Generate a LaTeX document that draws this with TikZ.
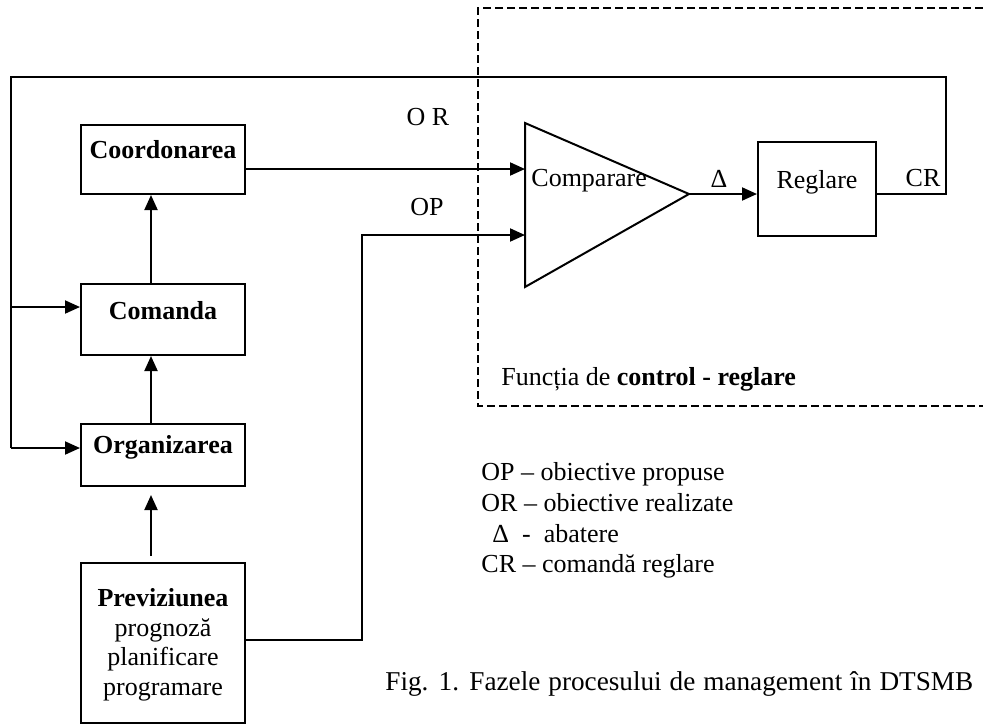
\documentclass[tikz,border=0pt]{standalone}
\usepackage{fontspec}
\setmainfont{Liberation Serif}
\usepackage{tikz}
\usetikzlibrary{arrows.meta}

\begin{document}
\begin{tikzpicture}[x=0.5pt, y=-0.5pt,
        every node/.style={font=\fontsize{13pt}{15pt}\selectfont},
        phase/.style={draw, line width=1pt, minimum width=82pt, inner sep=0pt,
            font=\fontsize{13pt}{15pt}\selectfont\bfseries},
        link/.style={line width=1pt},
        frame/.style={line width=0.6pt, dash pattern=on 4pt off 2pt},
        >={Triangle[length=7.5pt, width=6.5pt]}]
        \useasboundingbox (0,0) rectangle (983,724);
        % fazele
        \node (coord) [phase, anchor=north, text height=16.5pt, text depth=18pt] at (163,124) {Coordonarea};
        \node (coman) [phase, anchor=north, text height=17.5pt, text depth=18pt] at (163,283) {Comanda};
        \node (organ) [phase, anchor=north, text height=14.5pt, text depth=16.5pt] at (163,423) {Organizarea};
        \node (prev) [phase, anchor=north, minimum height=80pt, align=center,
            font=\fontsize{13pt}{14.8pt}\selectfont] at (163,562) {\\[-4pt]\textbf{Previziunea}\\prognoză\\planificare\\programare};
        \coordinate (ax) at (151,0);
        \draw [->, link] (ax |- coman.north) -- (ax |- coord.south);
        \draw [->, link] (ax |- organ.north) -- (ax |- coman.south);
        \draw [->, link] ([yshift=3pt]ax |- prev.north) -- ([yshift=-4pt]ax |- organ.south);
        % control - reglare
        \coordinate (cmpT) at (525,123);
        \coordinate (cmpB) at (525,287);
        \coordinate (cmpO) at (689,194);
        \draw [link] (cmpT) -- (cmpO) -- (cmpB) -- cycle;
        \node (cmp) [anchor=base west, inner sep=0pt] at (531,186) {Comparare};
        \node (regl) [draw, link, anchor=north, minimum width=59pt, inner sep=0pt,
            text height=23pt, text depth=24pt] at (817,141) {Reglare};
        \draw [->, link] (cmpO) -- (cmpO -| regl.west);
        \node (dlt) at (719,179) {Δ};
        \node (crl) at (923,178) {CR};
        \node (orl) at (428,117) {O R};
        \node (opl) at (427,207) {OP};
        % intrari
        \coordinate (inOR) at (525,169);
        \coordinate (inOP) at (525,235);
        \coordinate (opK) at (362,640);
        \draw [->, link] (inOR -| coord.east) -- (inOR);
        \draw [->, link] (opK -| prev.east) -- (opK) |- (inOP);
        % bucla de reglare
        \coordinate (fbR) at (946,77);
        \coordinate (fbO) at (11,448);
        \coordinate (fbC) at (11,307);
        \draw [link] (cmpO -| regl.east) -| (fbR) -| (fbO);
        \draw [->, link] (fbC) -- (fbC -| coman.west);
        \draw [->, link] (fbO) -- (fbO -| organ.west);
        % chenar
        \draw [frame] (983,8) -- (478,8) -- (478,406) -- (983,406);
        \node (ctrl) [anchor=base west, inner sep=0pt] at (501,385) {Funcția de \textbf{control - reglare}};
        % legenda
        \node (lgOP) [anchor=base west, inner sep=0pt] at (481,480) {OP – obiective propuse};
        \node (lgOR) [anchor=base west, inner sep=0pt] at (481,511) {OR – obiective realizate};
        \node (lgD) [anchor=base west, inner sep=0pt] at (492,542) {Δ\ \ -\ \ abatere};
        \node (lgCR) [anchor=base west, inner sep=0pt] at (481,572) {CR – comandă reglare};
        \node (fig) [anchor=base west, inner sep=0pt, font=\fontsize{13.6pt}{15pt}\selectfont]
            at (385,690) {\spaceskip=4pt Fig. 1. Fazele procesului de management în DTSMB};
    \end{tikzpicture}
\end{document}
